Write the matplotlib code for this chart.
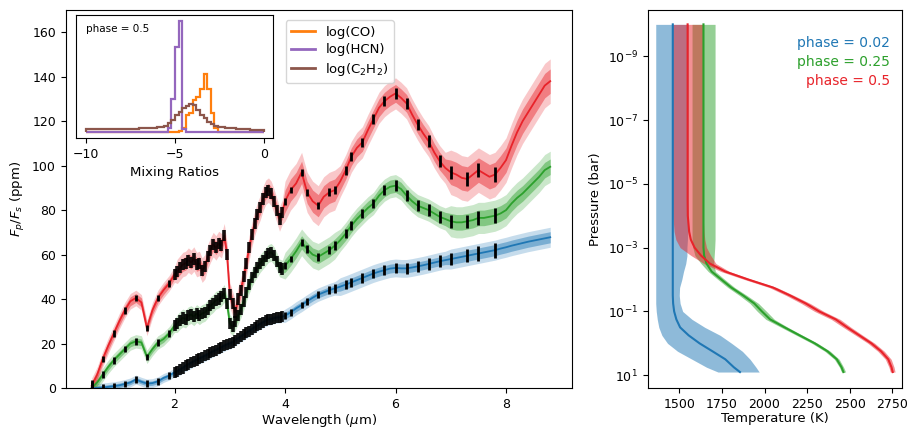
import numpy as np
import matplotlib
matplotlib.use("Agg")
import matplotlib.pyplot as plt
from matplotlib.ticker import NullLocator
from matplotlib.lines import Line2D

# ---- emission spectra (ppm) on a wavelength grid (micron) ----
wl_short = np.round(np.arange(0.5, 2.0001, 0.1), 2)    # 16 pts
wl_nirspec = np.round(np.arange(2.05, 3.9501, 0.05), 2)  # 39 pts
wl_long = np.round(np.arange(4.0, 8.8001, 0.1), 2)     # 49 pts
wl = np.concatenate([wl_short, wl_nirspec, wl_long])

red_spec = [1, 6, 13, 19, 24.5, 30, 35, 39, 40.5, 38.5, 27, 35, 40.5, 44, 47, 51,
            52.5, 54, 55.5, 56, 57.5, 56.5, 58, 55.5, 56, 53,
            54.5, 59, 62, 64.5, 63, 65, 64, 68.5, 60, 42,
            38, 34, 40, 44, 50, 56, 63, 69, 74, 78,
            81, 85, 88, 89, 87.5, 84, 80, 76, 79,
            84, 89, 92, 97, 88, 84, 82, 86, 88, 89,
            93, 98, 104, 108, 110.5, 116, 121, 126, 129, 131,
            132.5, 130.5, 128, 123, 118.5, 114.5, 111, 106, 102, 99,
            97, 96, 94.5, 94, 96, 98, 96.5, 95, 96, 99,
            102.5, 109, 115, 120, 124, 128, 132, 136, 138]
green_spec = [0, 2.5, 6, 9.5, 12.5, 15, 17.5, 20, 21, 20.5, 14, 17.5, 20.5, 22, 24.5, 28,
              29, 30.5, 31.5, 31, 32.5, 33, 32, 33.5, 32.5, 33.5,
              34, 35.5, 37, 38, 39.5, 40, 41, 42.5, 38, 29,
              27.5, 30, 32.5, 35.5, 39, 43, 46.5, 49.5, 52, 54,
              56, 57.5, 59, 60.5, 61, 59.5, 57, 54, 53.5,
              55, 58, 61.5, 65.5, 62.5, 60, 59, 60.5, 62, 64,
              66.5, 69.5, 73, 76, 78.5, 81, 83, 86.5, 89, 90.5,
              91, 89.5, 86.5, 84, 82, 81, 80, 78.5, 77, 76,
              75, 74.5, 74.5, 75, 75.5, 76.5, 76.5, 77, 77.5, 78.5,
              80, 83, 85.5, 87.5, 90, 92.5, 95, 98, 99.5]
blue_spec = [0, 0, 0.2, 0.5, 0.8, 1.2, 1.8, 2.5, 3.8, 2.8, 2, 2.2, 3, 4.5, 5.5, 7,
             7.5, 8.3, 9, 10, 10.6, 11.3, 12, 12.6, 13.3, 13.8,
             14.5, 15.1, 15.8, 16.5, 17, 17.7, 18.3, 19, 19.6, 20,
             20.5, 21.5, 22.3, 23.2, 24, 24.8, 25.6, 26.5, 27.3, 28,
             28.8, 29.5, 30.2, 30.7, 31, 31.4, 31.7, 31.8, 32,
             32.5, 34, 35.8, 37.3, 39, 40.6, 42, 43, 44, 44.8,
             45.6, 46.5, 47.5, 48.5, 49.5, 50.5, 51.5, 52.3, 53, 53.7,
             54, 53.8, 53.8, 54.2, 54.7, 55.2, 55.8, 56.4, 57, 57.5,
             58, 58.5, 59, 59.5, 60, 60.5, 61, 61.5, 62, 62.7,
             63.3, 64, 64.6, 65.2, 65.8, 66.3, 66.8, 67.3, 67.8]

# 1-sigma / 2-sigma half widths of the retrieved spectra
blue_s1 = [1.0] * 16 + [1.2] * 39 + [1.5] * 10 + [2.0] * 20 + [2.5] * 19
blue_s2 = [2.0] * 16 + [2.5] * 39 + [3.0] * 10 + [4.0] * 20 + [4.5] * 19
green_s1 = [1.5] * 16 + [2.0] * 39 + [3.0] * 10 + [3.0] * 20 + [3.5] * 19
green_s2 = [3.0] * 16 + [4.0] * 39 + [6.0] * 10 + [5.0] * 20 + [7.0] * 19
red_s1 = [2.0] * 16 + [3.0] * 39 + [5.0] * 10 + [4.0] * 20 + [5.5] * 19
red_s2 = [3.5] * 16 + [5.5] * 39 + [9.0] * 10 + [7.0] * 20 + [10.0] * 19

# simulated observation wavelengths (subset of grid) and error bars
obs_short = [0.5, 0.7, 0.9, 1.1, 1.3, 1.5, 1.7, 1.9]
obs_miri = [4.0, 4.1, 4.3, 4.4, 4.6, 4.8, 4.9, 5.1, 5.2, 5.4, 5.6,
            5.8, 6.0, 6.2, 6.4, 6.6, 6.8, 7.0, 7.3, 7.5, 7.8]
err_short = [2.5, 1.5, 1.5, 1.5, 1.5, 1.5, 1.5, 1.5]
err_nirspec = 2.5
err_miri = [1.5, 1.5, 1.5, 1.6, 1.7, 1.8, 1.9, 2.0, 2.0, 2.1, 2.2,
            2.3, 2.4, 2.5, 2.6, 2.7, 2.8, 2.9, 3.0, 3.2, 3.4]

# ---- inset: posterior histograms of mixing ratios ----
hist_edges = np.linspace(-10, 0, 51)
co_hist = [0.3] * 26 + [1.5, 4, 17, 19, 32, 36, 44, 59, 44, 19, 4] + [0.5] * 13
hcn_hist = [0.5] * 23 + [4, 33, 86, 112, 3] + [0.3] * 22
c2h2_hist = [3] * 15 + [4] * 5 + [5, 5, 6.5, 9, 12, 17, 20.7, 24, 26, 28, 27, 22, 17,
                                  14, 10.7, 8.3, 6.3, 5, 5, 4, 4, 4, 3, 3, 3, 3, 2, 2, 2, 2]

# ---- temperature-pressure profiles ----
logp = [-10, -4.5, -4, -3.5, -3.25, -3, -2.75, -2.5, -2.25, -2, -1.75, -1.5,
        -1.25, -1, -0.75, -0.5, -0.25, 0, 0.25, 0.5, 0.75, 0.9]
t_blue = [1462, 1462, 1462, 1462, 1462, 1462, 1462, 1462, 1462, 1462, 1462, 1462,
          1464, 1470, 1483, 1505, 1555, 1619, 1695, 1770, 1820, 1856]
t_blue_lo = [1362, 1362, 1362, 1362, 1362, 1362, 1362, 1362, 1362, 1362, 1362, 1362,
             1362, 1365, 1371, 1380, 1398, 1431, 1490, 1575, 1660, 1727]
t_blue_hi = [1552, 1552, 1552, 1550, 1548, 1545, 1545, 1538, 1525, 1515, 1502, 1500,
             1505, 1520, 1575, 1650, 1740, 1807, 1870, 1915, 1950, 1969]
t_green = [1642, 1642, 1642, 1642, 1642, 1642, 1646, 1660, 1690, 1747, 1805, 1875,
           1940, 1985, 2033, 2118, 2206, 2295, 2370, 2424, 2452, 2463]
t_green_lo = [1575, 1575, 1575, 1575, 1575, 1580, 1592, 1628, 1670, 1727, 1785, 1853,
              1915, 1958, 2008, 2098, 2188, 2278, 2354, 2410, 2440, 2452]
t_green_hi = [1710, 1710, 1710, 1710, 1710, 1708, 1705, 1702, 1712, 1767, 1825, 1897,
              1965, 2012, 2058, 2138, 2224, 2312, 2386, 2438, 2464, 2476]
t_red = [1549, 1549, 1550, 1558, 1568, 1590, 1628, 1680, 1770, 1905, 2050, 2150,
         2242, 2321, 2418, 2485, 2556, 2627, 2684, 2726, 2745, 2752]
t_red_lo = [1460, 1460, 1462, 1470, 1480, 1505, 1570, 1645, 1745, 1883, 2028, 2127,
            2216, 2294, 2392, 2462, 2535, 2607, 2665, 2709, 2730, 2738]
t_red_hi = [1640, 1640, 1640, 1645, 1650, 1660, 1685, 1715, 1795, 1927, 2072, 2173,
            2268, 2348, 2444, 2508, 2577, 2647, 2703, 2743, 2760, 2766]

phase_labels = ["phase = 0.02", "phase = 0.25", "phase = 0.5"]
colors = ["#1f77b4", "#2ca02c", "#e8232a"]

fig = plt.figure(figsize=(9.15, 4.3), dpi=100)
ax = fig.add_axes([0.0718, 0.0977, 0.5537, 0.879])
ax2 = fig.add_axes([0.7079, 0.0977, 0.2776, 0.879])

# left panel
spectra = [(blue_spec, blue_s1, blue_s2), (green_spec, green_s1, green_s2),
           (red_spec, red_s1, red_s2)]
for (spec, s1, s2), c in zip(spectra, colors):
    spec = np.array(spec)
    s1 = np.array(s1)
    s2 = np.array(s2)
    ax.fill_between(wl, spec - s2, spec + s2, color=c, alpha=0.25, lw=0)
    ax.fill_between(wl, spec - s1, spec + s1, color=c, alpha=0.45, lw=0)
    ax.plot(wl, spec, color=c, lw=1.3)

    i_short = np.searchsorted(wl, obs_short)
    i_nir = np.where((wl >= 2.0) & (wl < 3.96))[0]
    i_miri = np.searchsorted(wl, obs_miri)
    ax.errorbar(wl[i_short], spec[i_short], yerr=err_short, fmt="none",
                ecolor="k", elinewidth=2, capsize=0, zorder=4)
    ax.errorbar(wl[i_nir], spec[i_nir], yerr=err_nirspec, fmt="none",
                ecolor="k", elinewidth=2.6, capsize=0, zorder=4, alpha=0.9)
    ax.errorbar(wl[i_miri], spec[i_miri], yerr=err_miri, fmt="none",
                ecolor="k", elinewidth=2, capsize=0, zorder=4)

ax.set_xlim(0.03, 9.2)
ax.set_ylim(0, 170)
ax.set_xticks([2, 4, 6, 8])
ax.set_yticks([0, 20, 40, 60, 80, 100, 120, 140, 160])
ax.set_xlabel(r"Wavelength ($\mu$m)", fontsize=9.5, labelpad=1)
ax.set_ylabel(r"$F_p/F_s$ (ppm)", fontsize=9.5)
ax.tick_params(labelsize=9)

# inset
axin = fig.add_axes([0.0831, 0.679, 0.2153, 0.286])
axin.stairs(co_hist, hist_edges, color="#ff7f0e", lw=1.6)
axin.stairs(hcn_hist, hist_edges, color="#9467bd", lw=1.6)
axin.stairs(c2h2_hist, hist_edges, color="#8c564b", lw=1.6)
axin.set_xlim(-10.55, 0.5)
axin.set_ylim(-5.6, 117.6)
axin.set_yticks([])
axin.set_xticks([-10, -5, 0])
axin.tick_params(labelsize=9)
axin.set_xlabel("Mixing Ratios", fontsize=9.5)
axin.text(0.05, 0.93, "phase = 0.5", transform=axin.transAxes, fontsize=7.5,
          va="top", ha="left")

handles = [Line2D([], [], color="#ff7f0e", lw=2),
           Line2D([], [], color="#9467bd", lw=2),
           Line2D([], [], color="#8c564b", lw=2)]
fig.legend(handles, ["log(CO)", "log(HCN)", r"log(C$_2$H$_2$)"],
           loc="upper left", bbox_to_anchor=(0.305, 0.968), fontsize=9.5,
           handlelength=1.8, labelspacing=0.35)

# right panel
pres = 10.0 ** np.array(logp)
profiles = [(t_blue, t_blue_lo, t_blue_hi), (t_green, t_green_lo, t_green_hi),
            (t_red, t_red_lo, t_red_hi)]
for (t, lo, hi), c in zip(profiles, colors):
    ax2.fill_betweenx(pres, lo, hi, color=c, alpha=0.5, lw=0)
    ax2.plot(t, pres, color=c, lw=1.5)

ax2.set_yscale("log")
ax2.set_ylim(10 ** 1.4, 10 ** -10.45)
ax2.set_yticks([1e-9, 1e-7, 1e-5, 1e-3, 1e-1, 1e1])
ax2.yaxis.set_minor_locator(NullLocator())
ax2.set_xlim(1315, 2805)
ax2.set_xticks([1500, 1750, 2000, 2250, 2500, 2750])
ax2.tick_params(labelsize=9)
ax2.set_xlabel("Temperature (K)", fontsize=9.5, labelpad=1)
ax2.set_ylabel("Pressure (bar)", fontsize=9.5)
for k, (lab, c) in enumerate(zip(phase_labels, colors)):
    ax2.text(0.955, 0.912 - 0.05 * k, lab, color=c, transform=ax2.transAxes,
             ha="right", va="center", fontsize=10)

fig.savefig("out.png", dpi=100)
